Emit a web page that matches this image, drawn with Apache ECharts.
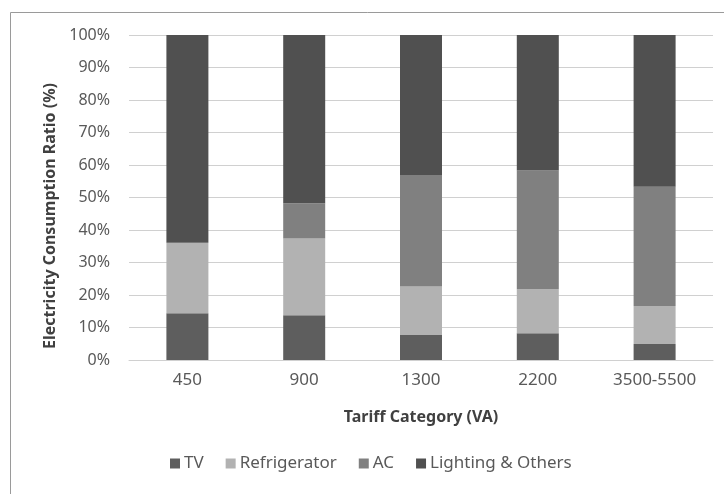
<!DOCTYPE html>
<html><head><meta charset="utf-8">
<script src="https://cdn.jsdelivr.net/npm/echarts@6/dist/echarts.min.js"></script>
<style>html,body{margin:0;padding:0;background:#fff}#c{width:724px;height:494px}</style>
</head><body><div id="c"></div>
<script>
const categories = ['450', '900', '1300', '2200', '3500-5500'];
const tv = [14.4, 13.8, 7.7, 8.2, 4.9];
const refrigerator = [21.7, 23.6, 14.9, 13.6, 11.7];
const ac = [0, 10.8, 34.3, 36.5, 36.7];
const lighting = [63.9, 51.8, 43.1, 41.7, 46.7];
const seriesNames = ['TV', 'Refrigerator', 'AC', 'Lighting & Others'];
const colors = ['#5e5e5e', '#b2b2b2', '#808080', '#505050'];

const font = 'Noto Sans';
const chart = echarts.init(document.getElementById('c'));
const mk = (name, data, i) => ({
  name, type: 'bar', stack: 'all', data, barWidth: 42,
  itemStyle: { color: colors[i] }
});
chart.setOption({
  animation: false,
  color: colors,
  graphic: [{
    type: 'rect', shape: { x: 10.5, y: 12.5, width: 730, height: 500 },
    style: { fill: 'none', stroke: '#9a9a9a', lineWidth: 1 }, silent: true
  }],
  grid: { left: 129, right: 11, top: 35, bottom: 134 },
  legend: {
    top: 450, left: 165, itemWidth: 10, itemHeight: 10, itemGap: 22,
    icon: 'rect',
    textStyle: { fontFamily: font, fontSize: 17, color: '#595959', padding: [0, 0, 0, -1] },
    data: seriesNames
  },
  xAxis: {
    type: 'category', data: categories,
    name: 'Tariff Category (VA)', nameLocation: 'middle', nameGap: 49,
    nameTextStyle: { fontFamily: font, fontSize: 16, fontWeight: 'bold', color: '#404040' },
    axisLine: { lineStyle: { color: '#d0d0d0' } },
    axisTick: { show: false },
    axisLabel: { fontFamily: font, fontSize: 17, color: '#595959', margin: 12 }
  },
  yAxis: {
    type: 'value', min: 0, max: 100, interval: 10,
    name: 'Electricity Consumption Ratio (%)', nameLocation: 'middle', nameGap: 70,
    nameTextStyle: { fontFamily: font, fontSize: 16, fontWeight: 'bold', color: '#404040', padding: [0, 37, 0, 0] },
    axisLine: { show: false }, axisTick: { show: false },
    splitLine: { lineStyle: { color: '#d0d0d0', width: 1 } },
    axisLabel: { fontFamily: font, fontSize: 16, color: '#595959', margin: 19, formatter: v => v + '%' }
  },
  series: [mk(seriesNames[0], tv, 0), mk(seriesNames[1], refrigerator, 1), mk(seriesNames[2], ac, 2), mk(seriesNames[3], lighting, 3)]
});
</script></body></html>
